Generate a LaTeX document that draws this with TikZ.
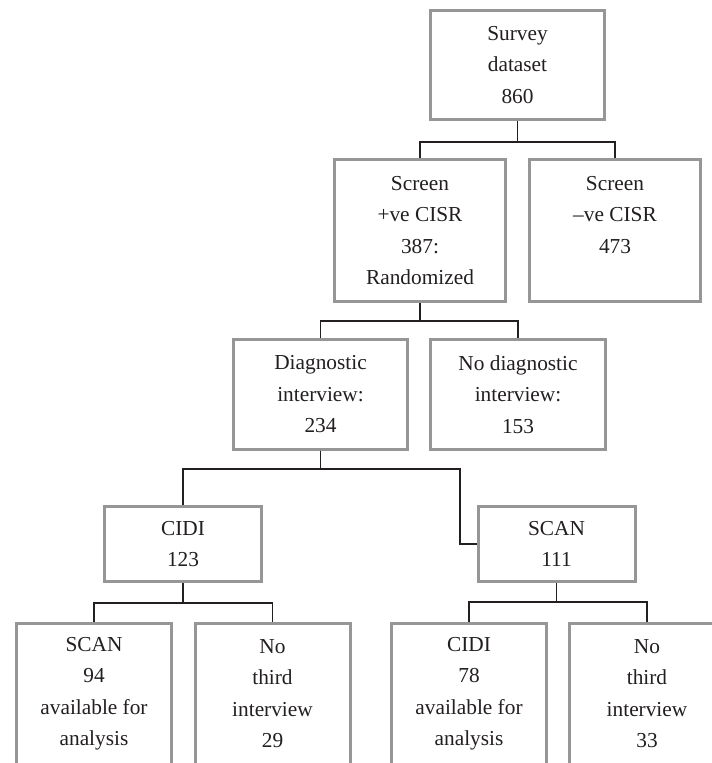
\documentclass[tikz,border=0pt]{standalone}
\usepackage{fontspec}
\setmainfont{Liberation Serif}
\usetikzlibrary{positioning,calc}
\definecolor{boxgray}{RGB}{150,150,150}
\definecolor{inkgray}{RGB}{35,31,32}

\begin{document}
\begin{tikzpicture}[
    x=0.75pt, y=-0.75pt,
    box/.style={rectangle, draw=boxgray, line width=2.25pt, fill=white, align=center,
                inner sep=0pt, text=inkgray, font=\fontsize{16pt}{23.6pt}\selectfont},
    wide/.style={box, minimum width=131pt, minimum height=82pt},
    tall/.style={box, minimum width=128.25pt, minimum height=106.5pt},
    small/.style={box, minimum width=117.75pt, minimum height=56.25pt},
    leaf/.style={box, minimum width=116.25pt, minimum height=105.4pt},
    link/.style={draw=inkgray, line width=1.3pt}
]
    \useasboundingbox (0,0) rectangle (712,763);

    \node[wide] (survey) at (517.5,65) {Survey\\dataset\\860};
    \node[tall] (pos) at (420,230.5) {Screen\\+ve CISR\\387:\\Randomized};
    \node[tall] (neg) at (615,230.5) {Screen\\--ve CISR\\473\\\mbox{}};
    \node[wide] (diag) at (320.5,394.5) {Diagnostic\\interview:\\234};
    \node[wide] (nodiag) at (518,394.5) {No diagnostic\\interview:\\153};
    \node[small] (cidi) at (183,544) {CIDI\\123};
    \node[small] (scan) at (556.5,544) {SCAN\\111};
    \node[leaf] (scanok) at (94,693.75) {SCAN\\94\\available for\\analysis};
    \node[leaf] (nothirdA) at (272.5,693.75) {No\\third\\interview\\29};
    \node[leaf] (cidiok) at (469,693.75) {CIDI\\78\\available for\\analysis};
    \node[leaf] (nothirdB) at (647,693.75) {No\\third\\interview\\33};

    % tree links
    \draw[link] (survey.south) -- ++(0,21) -| (pos.north);
    \draw[link] (survey.south) -- ++(0,21) -| (neg.north);
    \draw[link] (pos.south) -- ++(0,18) -| (diag.north);
    \draw[link] (pos.south) -- ++(0,18) -| (nodiag.north);
    \draw[link] (diag.south) -- ++(0,18) -| (cidi.north);
    \draw[link] (diag.south) -- ++(0,18) -| ([xshift=-12.5pt]scan.west) -- (scan.west);
    \draw[link] (cidi.south) -- ++(0,20) -| (scanok.north);
    \draw[link] (cidi.south) -- ++(0,20) -| (nothirdA.north);
    \draw[link] (scan.south) -- ++(0,19) -| (cidiok.north);
    \draw[link] (scan.south) -- ++(0,19) -| (nothirdB.north);
\end{tikzpicture}
\end{document}
